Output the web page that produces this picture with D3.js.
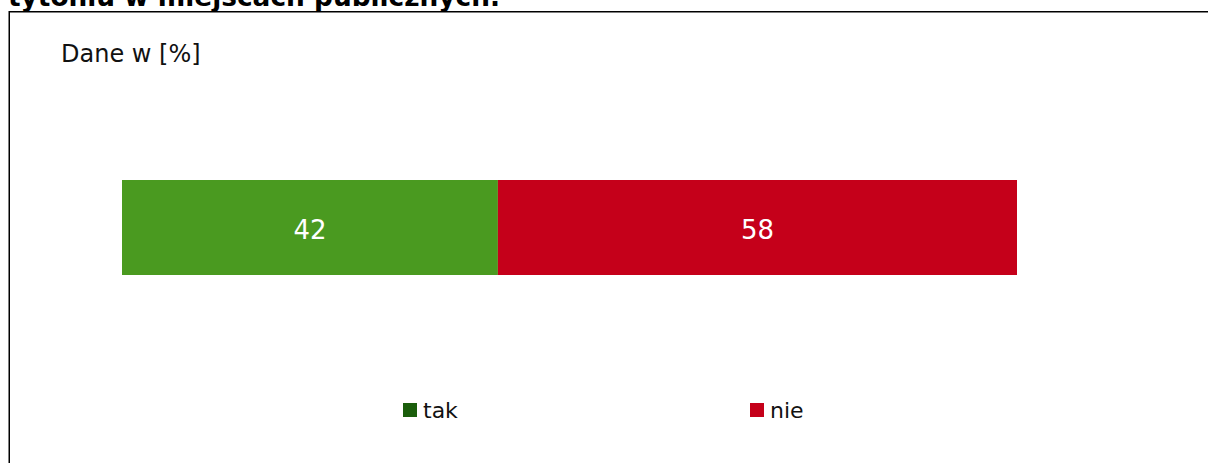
<!DOCTYPE html>
<html>
<head>
<meta charset="utf-8">
<script src="https://cdn.jsdelivr.net/npm/d3@7"></script>
<style>
  html, body { margin: 0; padding: 0; background: #fff; }
  svg { display: block; font-family: "DejaVu Sans", Verdana, sans-serif; }
</style>
</head>
<body>
<div id="chart"></div>
<script>
// chart data
const title = 'tytoniu w miejscach publicznych.'
const unitLabel = 'Dane w [%]'
const categories = ['tak', 'nie']
const values = [42, 58]
const barColors = ['#4a9a20', '#c5001a']
const legendColors = ['#1b5e0c', '#c5001a']

const width = 1208
const height = 463

const svg = d3.select('#chart').append('svg')
  .attr('width', width)
  .attr('height', height)

// cut-off title above the frame (clipped in the reference too)
svg.append('text')
  .attr('x', 8)
  .attr('y', 6)
  .attr('font-size', 26)
  .attr('font-weight', 'bold')
  .attr('fill', '#000')
  .attr('textLength', 492)
  .attr('lengthAdjust', 'spacingAndGlyphs')
  .text(title)

// frame, open to the right and bottom
svg.append('rect')
  .attr('x', 9.25)
  .attr('y', 11.75)
  .attr('width', width + 20)
  .attr('height', height + 20)
  .attr('fill', 'none')
  .attr('stroke', '#000')
  .attr('stroke-width', 1.5)

svg.append('text')
  .attr('x', 61)
  .attr('y', 62)
  .attr('font-size', 24)
  .attr('fill', '#111')
  .text(unitLabel)

// stacked 100% bar
const row = {}
categories.forEach((c, i) => { row[c] = values[i] })
const series = d3.stack().keys(categories)([row])

const x = d3.scaleLinear()
  .domain([0, d3.sum(values)])
  .range([122, 1017])

const y = d3.scaleBand()
  .domain(['row'])
  .range([180, 275])

const color = d3.scaleOrdinal().domain(categories).range(barColors)

const segs = svg.append('g')
  .selectAll('g')
  .data(series)
  .join('g')

segs.append('rect')
  .attr('x', d => x(d[0][0]))
  .attr('y', y('row'))
  .attr('width', d => x(d[0][1]) - x(d[0][0]))
  .attr('height', y.bandwidth())
  .attr('fill', d => color(d.key))

segs.append('text')
  .attr('x', d => (x(d[0][0]) + x(d[0][1])) / 2)
  .attr('y', y('row') + y.bandwidth() / 2 + 11)
  .attr('text-anchor', 'middle')
  .attr('font-size', 26)
  .attr('fill', '#fff')
  .text(d => d[0][1] - d[0][0])

// legend
const lx = d3.scalePoint()
  .domain(categories)
  .range([403, 750])

const legend = svg.append('g')
  .selectAll('g')
  .data(categories)
  .join('g')
  .attr('transform', d => `translate(${lx(d)}, 403)`)

legend.append('rect')
  .attr('width', 14)
  .attr('height', 14)
  .attr('fill', (d, i) => legendColors[i])

legend.append('text')
  .attr('x', 20)
  .attr('y', 15)
  .attr('font-size', 22)
  .attr('fill', '#111')
  .text(d => d)
</script>
</body>
</html>
